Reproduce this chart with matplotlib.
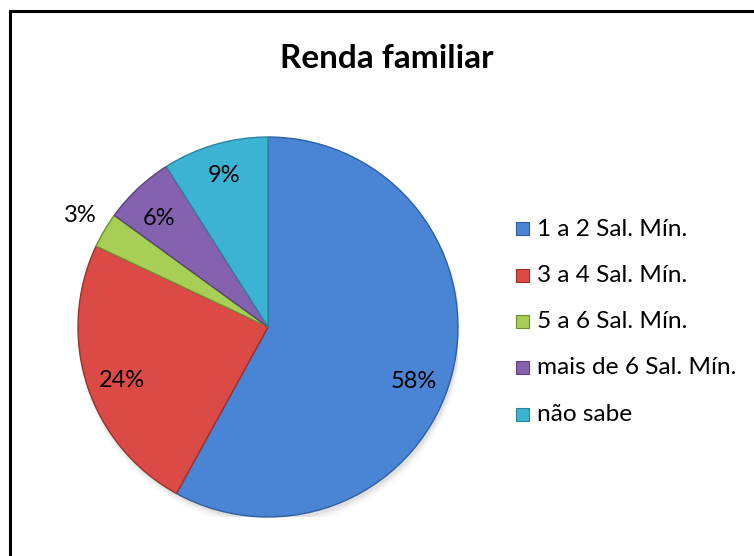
import numpy as np
import matplotlib
matplotlib.use("Agg")
import matplotlib.pyplot as plt
from matplotlib.lines import Line2D
from matplotlib.patches import Rectangle

categories = ["1 a 2 Sal. Mín.", "3 a 4 Sal. Mín.", "5 a 6 Sal. Mín.",
              "mais de 6 Sal. Mín.", "não sabe"]
values = [58, 24, 3, 6, 9]
colors = ["#4A84D4", "#DC4A46", "#A8CF55", "#8562B0", "#3CB3D3"]
edge_colors = ["#2F5F9E", "#9E2F2C", "#6F8F2F", "#5C4080", "#2A849E"]
label_dist = [0.82, 0.82, 1.15, 0.81, 0.83]
label_ang_shift = [-6, 2, 0, 2, 0]

plt.rcParams['font.family'] = ['Lato', 'DejaVu Sans']

fig = plt.figure(figsize=(7.54, 5.56), dpi=100)
W, H = 754, 556

# frame (top and left lines visible)
fig.add_artist(Line2D([10/W, 10/W], [0, 1 - 11/H], color="black", lw=2.2,
                      transform=fig.transFigure))
fig.add_artist(Line2D([10/W, 1], [1 - 11/H, 1 - 11/H], color="black", lw=2.2,
                      transform=fig.transFigure))

cx, cy, r = 268, 327, 190
ax = fig.add_axes([(cx - r)/W, (H - cy - r)/H, 2*r/W, 2*r/H])
ax.set_aspect('equal')
ax.axis('off')

# soft shadow
for k, a in enumerate(np.linspace(0.05, 0.01, 4)):
    ax.add_patch(plt.Circle((0.01, -0.02 - 0.006*k), 1.0 + 0.005*k,
                            color="black", alpha=a, zorder=0, lw=0))

wedges, _ = ax.pie(values, colors=colors, startangle=90, counterclock=False,
                   radius=1.0, center=(0, 0), frame=False,
                   wedgeprops=dict(linewidth=1.0))
for w, ec in zip(wedges, edge_colors):
    w.set_edgecolor(ec)
    w.set_zorder(2)
ax.set_xlim(-1, 1)
ax.set_ylim(-1, 1)

for w, v, d, s in zip(wedges, values, label_dist, label_ang_shift):
    ang = np.deg2rad((w.theta1 + w.theta2) / 2 + s)
    ax.text(d*np.cos(ang), d*np.sin(ang), f"{v}%", ha="center", va="center",
            fontsize=17, color="black", zorder=5)

fig.text(387/W, 1 - 58/H, "Renda familiar", ha="center", va="center",
         fontsize=24, fontweight="bold", color="black")

# legend
y0 = 229
for i, (cat, c, ec) in enumerate(zip(categories, colors, edge_colors)):
    y = y0 + i*46.3
    fig.add_artist(Rectangle((516/W, 1 - (y + 6.5)/H), 13/W, 13/H,
                             facecolor=c, edgecolor=ec, lw=0.8,
                             transform=fig.transFigure))
    fig.text(537/W, 1 - y/H, cat, ha="left", va="center", fontsize=17.6,
             color="black")

fig.savefig("out.png", dpi=100, facecolor="white")
